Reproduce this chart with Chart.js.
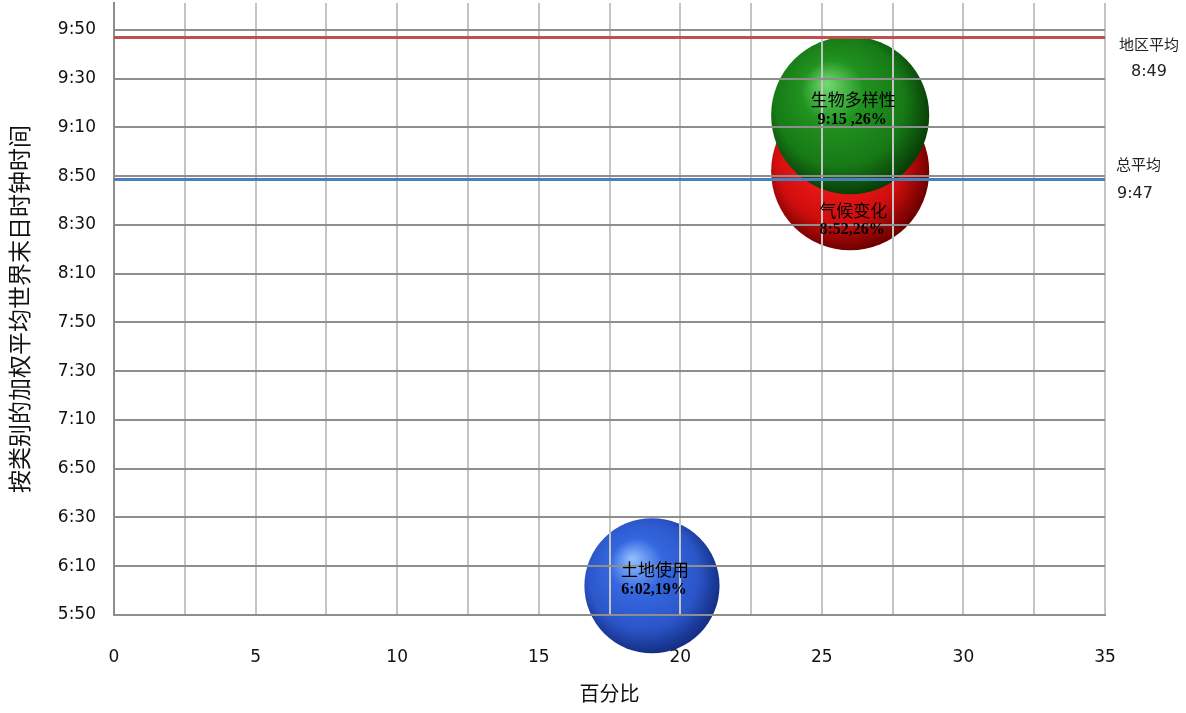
<!DOCTYPE html>
<html>
<head>
<meta charset="utf-8">
<script src="https://cdn.jsdelivr.net/npm/chart.js@4/dist/chart.umd.min.js"></script>
<style>
  html, body { margin: 0; padding: 0; background: #ffffff; }
  #wrap { width: 1186px; height: 713px; position: relative; }
</style>
</head>
<body>
<div id="wrap"><canvas id="chart" width="1186" height="713"></canvas></div>
<script>
// ---- data ----
const categories    = ['土地使用', '气候变化', '生物多样性'];
const percentShares = [19, 26, 26];              // x value and bubble size (%)
const clockTimes    = ['6:02', '8:52', '9:15'];  // weighted doomsday clock time
const yTickLabels   = ['5:50', '6:10', '6:30', '6:50', '7:10', '7:30', '7:50',
                       '8:10', '8:30', '8:50', '9:10', '9:30', '9:50'];
const xTickLabels   = ['0', '5', '10', '15', '20', '25', '30', '35'];
const averageNames  = ['地区平均', '总平均'];
const averageTimes  = ['8:49', '9:47'];

// ---- helpers ----
const toMinutes = t => { const [h, m] = t.split(':').map(Number); return h * 60 + m; };
const toClock = v => Math.floor(v / 60) + ':' + String(v % 60).padStart(2, '0');

const xTickValues = xTickLabels.map(Number);
const xStep = xTickValues[1] - xTickValues[0];
const xGridValues = [];
xTickValues.forEach((v, i) => {
  xGridValues.push(v);
  if (i < xTickValues.length - 1) xGridValues.push(v + xStep / 2);
});
const yTickValues = yTickLabels.map(toMinutes);

const SIZE_K = 15.5; // px radius per sqrt(percent)
const bubblePoints = categories.map((c, i) => ({
  x: percentShares[i],
  y: toMinutes(clockTimes[i]),
  r: SIZE_K * Math.sqrt(percentShares[i])
}));

// sphere shading per category
const spherePalette = [
  { light: '#8fbcff', base: '#3567e0', mid: '#2b56c9', dark: '#142f86' },
  { light: '#ff8a8a', base: '#ee1a1a', mid: '#d00d0d', dark: '#6e0000' },
  { light: '#6fd86f', base: '#21921f', mid: '#177a16', dark: '#073f07' }
];
const labelSeparators = [',', ',', ' ,'];
const labelOffsets = [[-16, 4], [39, 59], [-16, 5]];

function sphereFill(ctx) {
  const pal = spherePalette[ctx.dataIndex] || spherePalette[0];
  const chart = ctx.chart;
  if (ctx.type !== 'data' || !chart.chartArea || !chart.scales.x) return pal.base;
  const cx = chart.scales.x.getPixelForValue(ctx.raw.x);
  const cy = chart.scales.y.getPixelForValue(ctx.raw.y);
  const r = ctx.raw.r;
  const g = chart.ctx.createRadialGradient(cx - r * 0.3, cy - r * 0.4, r * 0.02,
                                           cx - r * 0.08, cy - r * 0.1, r * 1.1);
  g.addColorStop(0, pal.light);
  g.addColorStop(0.35, pal.base);
  g.addColorStop(0.74, pal.mid);
  g.addColorStop(1, pal.dark);
  return g;
}

// average lines, their captions and the bubble labels
const overlayPlugin = {
  id: 'overlay',
  afterDraw(chart) {
    const { ctx, chartArea: a, scales: { x, y } } = chart;
    const vals = averageTimes.map(toMinutes);
    const upper = Math.max(...vals), lower = Math.min(...vals);
    const upperY = Math.round(y.getPixelForValue(upper)) + 0.5;
    const lowerY = Math.round(y.getPixelForValue(lower)) + 0.5;

    ctx.save();
    ctx.lineWidth = 3;
    ctx.strokeStyle = '#c0504d';
    ctx.beginPath(); ctx.moveTo(a.left, upperY); ctx.lineTo(a.right, upperY); ctx.stroke();
    ctx.strokeStyle = '#4a7ebd';
    ctx.beginPath(); ctx.moveTo(a.left, lowerY); ctx.lineTo(a.right, lowerY); ctx.stroke();

    // captions at the right of the plot
    ctx.fillStyle = '#222';
    ctx.textBaseline = 'middle';
    ctx.textAlign = 'center';
    ctx.font = '15px "Noto Sans CJK SC"';
    ctx.fillText(averageNames[0], a.right + 44, upperY + 7);
    ctx.font = '16px "DejaVu Sans"';
    ctx.fillText(averageTimes[0], a.right + 44, upperY + 34);
    ctx.textAlign = 'left';
    ctx.font = '15px "Noto Sans CJK SC"';
    ctx.fillText(averageNames[1], a.right + 11, lowerY - 15);
    ctx.font = '16px "DejaVu Sans"';
    ctx.fillText(averageTimes[1], a.right + 12, lowerY + 14);

    // bubble labels
    ctx.fillStyle = '#000';
    ctx.textAlign = 'center';
    bubblePoints.forEach((p, i) => {
      const cx = x.getPixelForValue(p.x);
      const cy = y.getPixelForValue(p.y);
      const off = labelOffsets[i];
      ctx.font = '17px "Noto Sans CJK SC"';
      ctx.fillText(categories[i], cx + 3, cy + off[0]);
      ctx.font = 'bold 16px "Liberation Serif", "Times New Roman", serif';
      ctx.fillText(clockTimes[i] + labelSeparators[i] + percentShares[i] + '%', cx + 2, cy + off[1]);
    });
    ctx.restore();
  }
};

new Chart(document.getElementById('chart'), {
  type: 'bubble',
  data: {
    datasets: [{
      label: categories.join(' / '),
      data: bubblePoints,
      backgroundColor: sphereFill,
      borderWidth: 0,
      clip: false
    }]
  },
  options: {
    responsive: false,
    animation: false,
    devicePixelRatio: 1,
    events: [],
    layout: { autoPadding: false, padding: { left: 0, right: 81, top: 3, bottom: 0 } },
    plugins: {
      legend: { display: false },
      tooltip: { enabled: false },
      title: { display: false }
    },
    scales: {
      x: {
        type: 'linear',
        min: xTickValues[0],
        max: xTickValues[xTickValues.length - 1],
        afterBuildTicks: s => { s.ticks = xGridValues.map(v => ({ value: v })); },
        afterFit: s => { s.height = 98; s.paddingLeft = 0; s.paddingRight = 0; },
        ticks: {
          autoSkip: false,
          maxRotation: 0,
          padding: 32,
          color: '#111',
          font: { family: 'DejaVu Sans', size: 17 },
          callback: v => (xTickLabels.includes(String(v)) ? String(v) : '')
        },
        grid: { color: '#c4c4c4', lineWidth: 2, drawTicks: false, z: 1 },
        border: { color: '#8e8e8e', width: 2, z: 1 },
        title: {
          display: true,
          text: '百分比',
          color: '#111',
          font: { family: 'Noto Sans CJK SC', size: 20 },
          padding: { top: 0, bottom: 8 }
        }
      },
      y: {
        type: 'linear',
        min: yTickValues[0],
        max: yTickValues[yTickValues.length - 1] + 11,
        afterBuildTicks: s => { s.ticks = yTickValues.map(v => ({ value: v })); },
        afterFit: s => { s.width = 114; s.paddingTop = 0; s.paddingBottom = 0; },
        ticks: {
          autoSkip: false,
          padding: 18,
          color: '#111',
          font: { family: 'DejaVu Sans', size: 17 },
          callback: v => toClock(v)
        },
        grid: { color: '#8e8e8e', lineWidth: 2, drawTicks: false, z: 1 },
        border: { color: '#8e8e8e', width: 2, z: 1 },
        title: {
          display: true,
          text: '按类别的加权平均世界末日时钟时间',
          color: '#111',
          font: { family: 'Noto Sans CJK SC', size: 23 },
          padding: { top: 5, bottom: 0 }
        }
      }
    }
  },
  plugins: [overlayPlugin]
});
</script>
</body>
</html>
